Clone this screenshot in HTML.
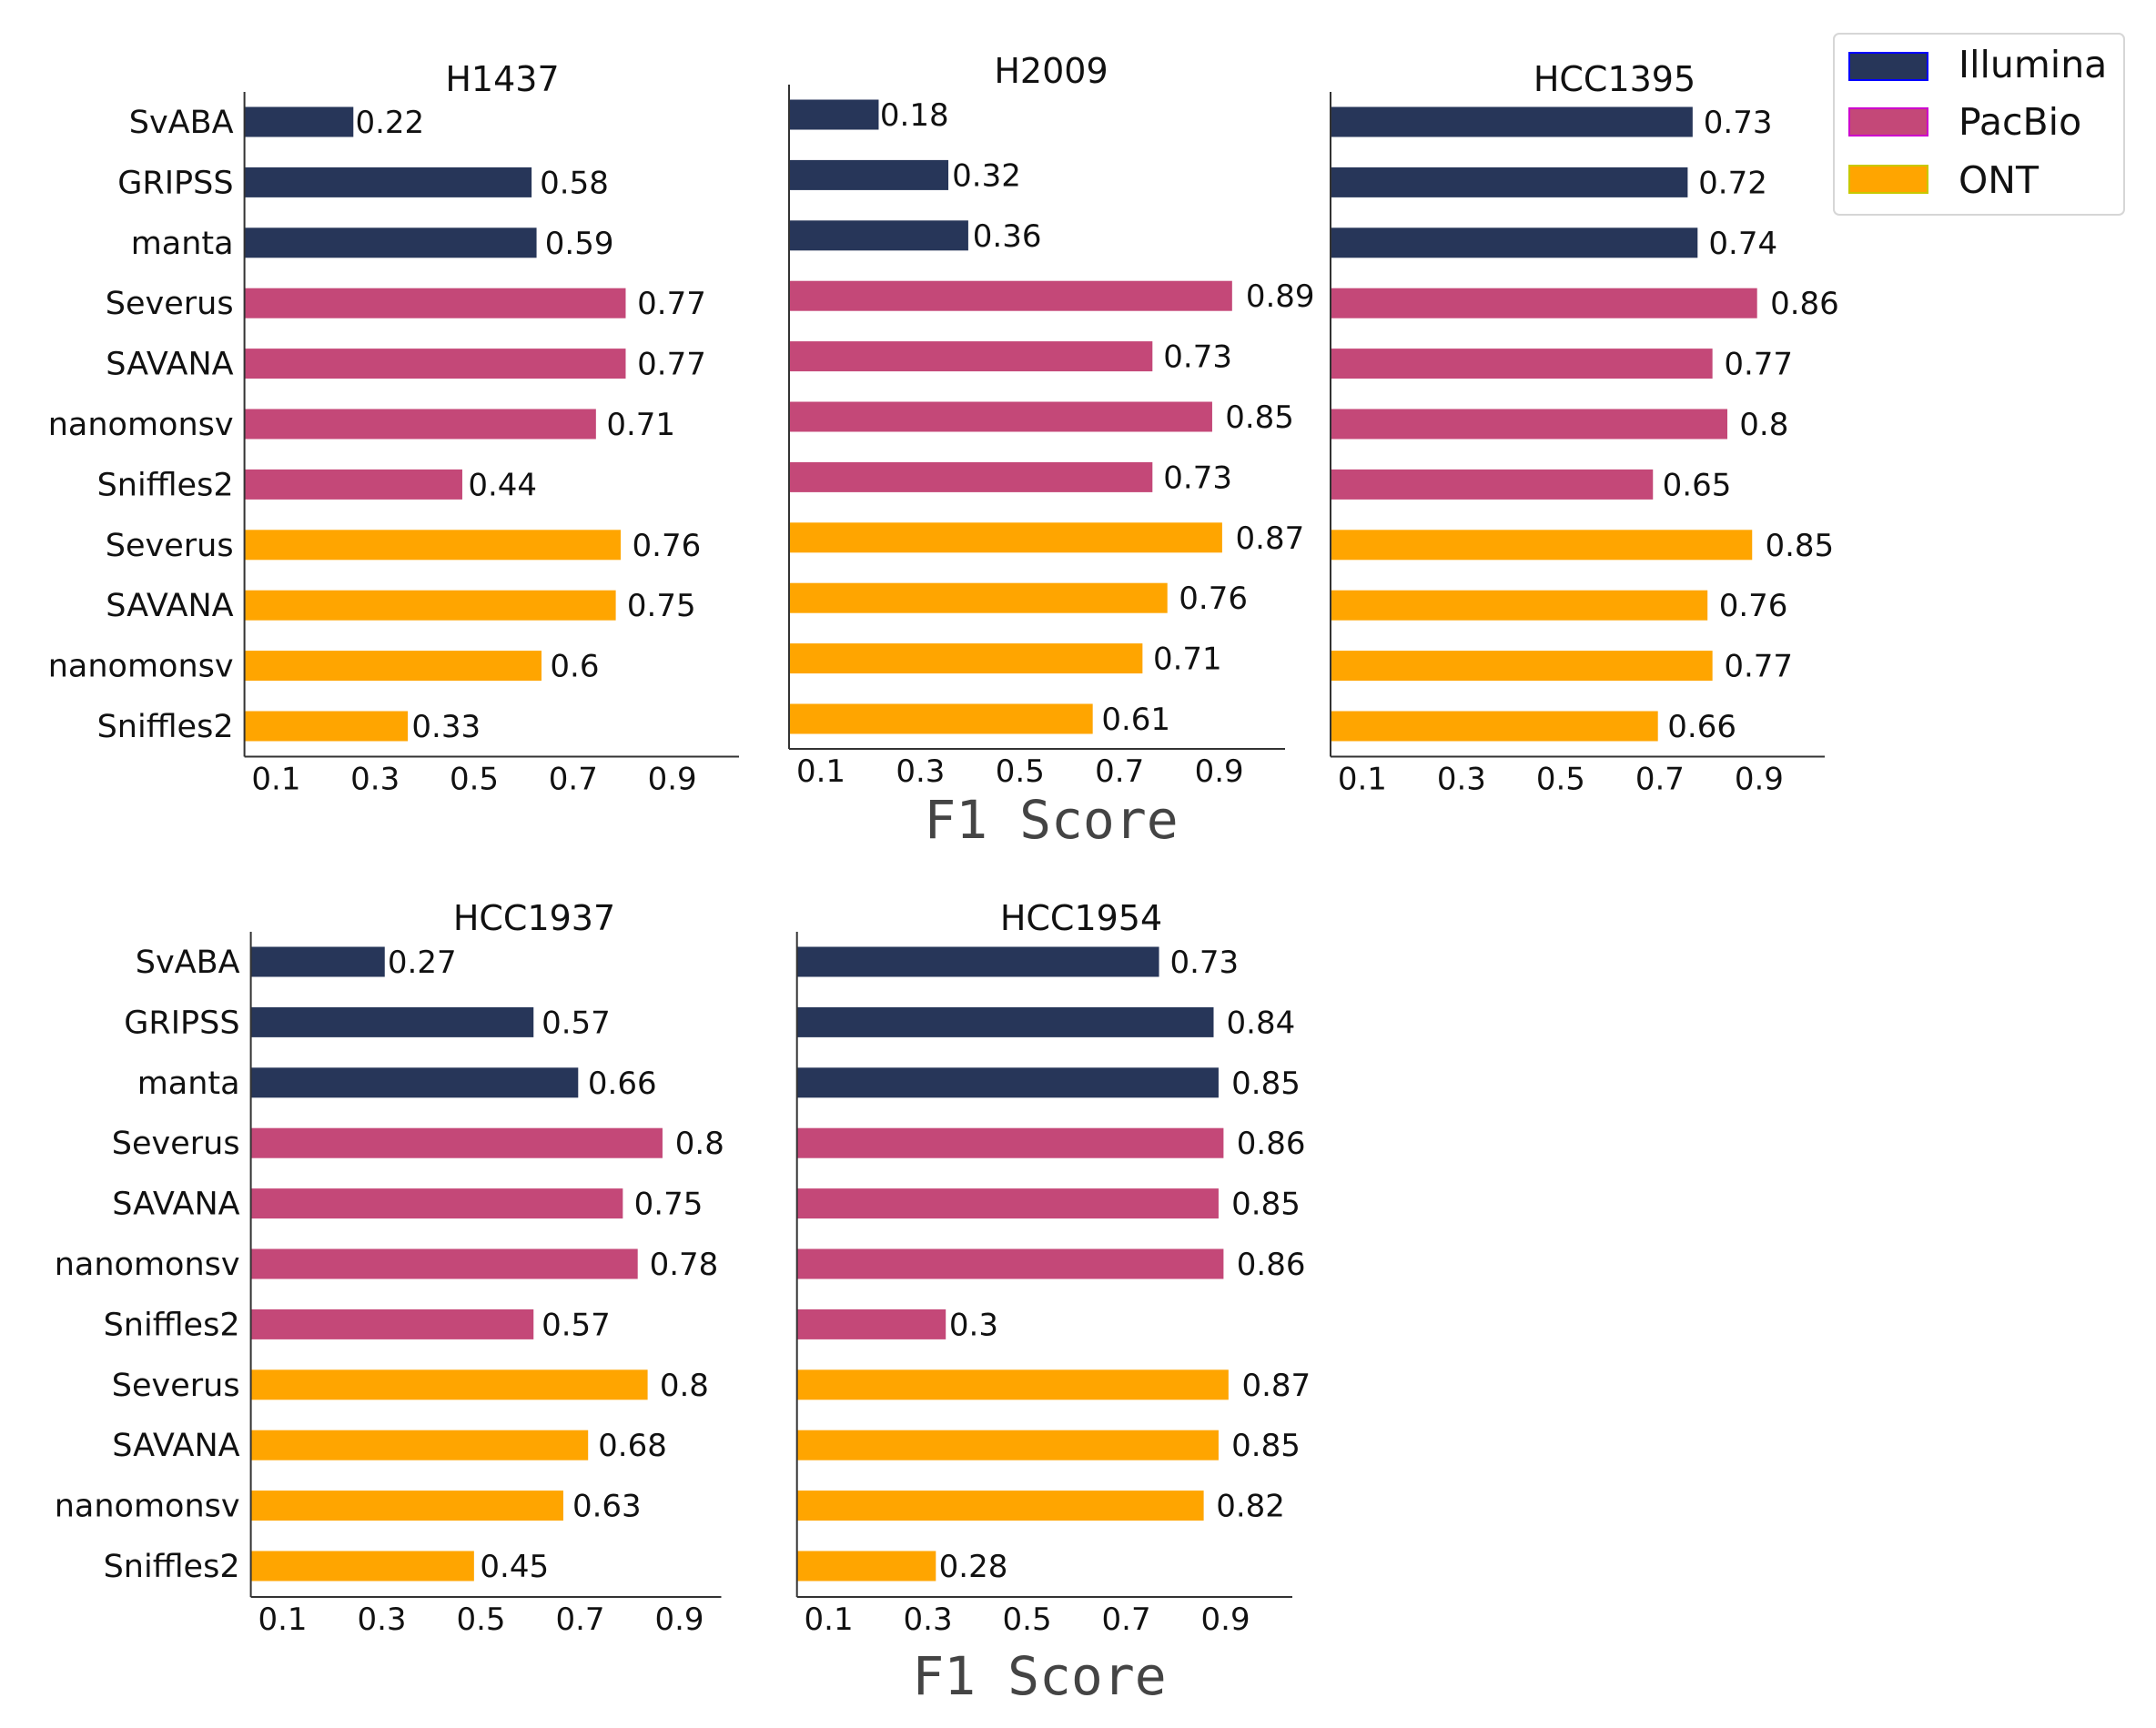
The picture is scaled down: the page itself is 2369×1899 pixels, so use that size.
<!DOCTYPE html>
<html><head><meta charset="utf-8"><style>
html,body{margin:0;padding:0;background:#fff;}
svg{display:block;font-family:"DejaVu Sans","Liberation Sans",sans-serif;}
</style></head><body>
<svg id="chart" width="2369" height="1899" viewBox="0 0 2369 1899" xmlns="http://www.w3.org/2000/svg">
<defs><clipPath id="clip4"><rect x="0" y="990" width="796" height="800"/></clipPath></defs>
<g>
<rect x="2015" y="37" width="319" height="199" rx="6" fill="#fff" stroke="#d6d6d6" stroke-width="2"/>
<rect x="2032" y="58" width="86" height="30" fill="#273659" stroke="#0000ff" stroke-width="2"/>
<text x="2152" y="85" font-size="41" fill="#111">Illumina</text>
<rect x="2032" y="119" width="86" height="30" fill="#c44878" stroke="#cc00cc" stroke-width="2"/>
<text x="2152" y="148" font-size="41" fill="#111">PacBio</text>
<rect x="2032" y="182" width="86" height="30" fill="#ffa500" stroke="#c8c800" stroke-width="2"/>
<text x="2152" y="212" font-size="41" fill="#111">ONT</text>
</g>
<text x="1155" y="921" font-size="58" text-anchor="middle" fill="#444" font-family="DejaVu Sans Mono, Liberation Mono, monospace">F1 Score</text>
<text x="1142" y="1862" font-size="58" text-anchor="middle" fill="#444" font-family="DejaVu Sans Mono, Liberation Mono, monospace">F1 Score</text>
</svg>
<script>
const tools = ["SvABA","GRIPSS","manta","Severus","SAVANA","nanomonsv","Sniffles2","Severus","SAVANA","nanomonsv","Sniffles2"];
const platforms = ["Illumina","Illumina","Illumina","PacBio","PacBio","PacBio","PacBio","ONT","ONT","ONT","ONT"];
const samples = ["H1437","H2009","HCC1395","HCC1937","HCC1954"];
const valsH1437 = [0.22,0.58,0.59,0.77,0.77,0.71,0.44,0.76,0.75,0.6,0.33];
const valsH2009 = [0.18,0.32,0.36,0.89,0.73,0.85,0.73,0.87,0.76,0.71,0.61];
const valsHCC1395 = [0.73,0.72,0.74,0.86,0.77,0.8,0.65,0.85,0.76,0.77,0.66];
const valsHCC1937 = [0.27,0.57,0.66,0.83,0.75,0.78,0.57,0.8,0.68,0.63,0.45];
const valsHCC1954 = [0.73,0.84,0.85,0.86,0.85,0.86,0.3,0.87,0.85,0.82,0.28];
const labelsHCC1937 = ["0.27","0.57","0.66","0.83","0.75","0.78","0.57","0.8","0.68","0.63","0.45"];
const xTicks = [0.1,0.3,0.5,0.7,0.9];
const xTickLabels = ["0.1","0.3","0.5","0.7","0.9"];

const colors = {Illumina:"#273659",PacBio:"#c44878",ONT:"#ffa500"};
const NS = "http://www.w3.org/2000/svg";
const svg = document.getElementById("chart");
function mk(tag, attrs, parent){const e=document.createElementNS(NS,tag);for(const k in attrs)e.setAttribute(k,attrs[k]);(parent||svg).appendChild(e);return e;}
const panels = [
 {vals:valsH1437,x:268.6,top:101,bottom:831.5,right:812,y0:134,k:544,tx:552,ty:100,ylab:true},
 {vals:valsH2009,x:867,top:93,bottom:823,right:1412,y0:126,k:547,tx:1155,ty:91,ylab:false},
 {vals:valsHCC1395,x:1462,top:101,bottom:831.5,right:2005,y0:134,k:545,tx:1774,ty:100,ylab:false},
 {vals:valsHCC1937,x:275.6,top:1024,bottom:1755,right:792.5,y0:1057,k:545,tx:587,ty:1022,ylab:true,labels:labelsHCC1937,clip:"url(#clip4)"},
 {vals:valsHCC1954,x:875.7,top:1024,bottom:1755,right:1420,y0:1057,k:545,tx:1188,ty:1022,ylab:false}
];
const XMIN = 0.036, ROW = 66.4, BAR_H = 33;
panels.forEach((p,pi)=>{
  const g = mk("g",{});
  
  
  const xs = v => p.x + (v - XMIN) * p.k;
  const ys = i => p.y0 + i * ROW;
  const t = mk("text",{x:p.tx,y:p.ty,"font-size":38,"text-anchor":"middle",fill:"#111"},g);
  t.textContent = samples[pi];
  
  
  p.vals.forEach((v,i)=>{
    const r = mk("rect",{x:p.x,y:ys(i)-BAR_H/2,width:v*p.k,height:BAR_H,fill:colors[platforms[i]]},g);
    
    
    const lt = mk("text",{x:p.x + v*p.k*1.035 - 2,y:ys(i)+12,"font-size":34,fill:"#111"},g);
    if (p.clip) lt.setAttribute("clip-path", p.clip);
    lt.textContent = p.labels ? p.labels[i] : String(v);
    
    
    if (p.ylab){
      const yl = mk("text",{x:p.x-12,y:ys(i)+12,"font-size":35,"text-anchor":"end",fill:"#111"},g);
      yl.textContent = tools[i];
      
      
    }
  });
  const ya = mk("line",{x1:p.x,y1:p.top,x2:p.x,y2:p.bottom,stroke:"#333","stroke-width":2},g);
  
  
  const xa = mk("line",{x1:p.x,y1:p.bottom,x2:p.right,y2:p.bottom,stroke:"#333","stroke-width":2},g);
  
  
  xTicks.forEach((tv,ti)=>{
    const tl = mk("text",{x:xs(tv),y:p.bottom+36,"font-size":34,"text-anchor":"middle",fill:"#111"},g);
    tl.textContent = xTickLabels[ti];
    
    
  });
});
</script>
</body></html>
